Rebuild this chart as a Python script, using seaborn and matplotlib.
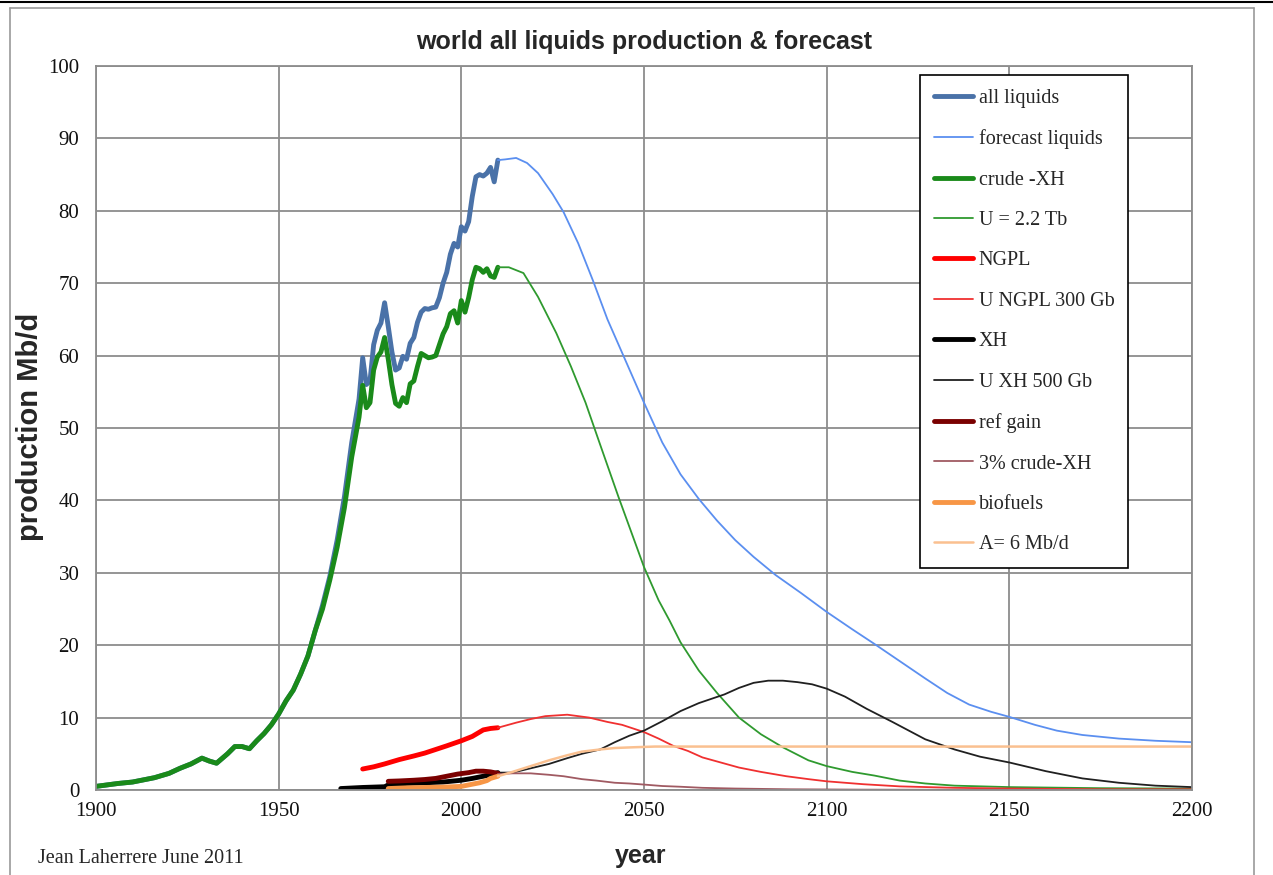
import matplotlib
matplotlib.use("Agg")
import matplotlib.pyplot as plt
import seaborn as sns
from matplotlib.lines import Line2D

# historical (thick lines)
hist_years = [1900, 1903, 1906, 1910, 1913, 1916, 1920, 1923, 1926, 1929, 1931, 1933, 1936, 1938,
              1940, 1942, 1944, 1946, 1948, 1950, 1952, 1954, 1956, 1958, 1960,
              1962, 1964, 1966, 1968, 1970, 1972,
              1973, 1974, 1975, 1976, 1977, 1978, 1979, 1980, 1981, 1982, 1983, 1984, 1985,
              1986, 1987, 1988, 1989, 1990, 1991, 1992, 1993, 1994, 1995, 1996, 1997, 1998,
              1999, 2000, 2001, 2002, 2003, 2004, 2005, 2006, 2007, 2008, 2009, 2010]
early = [0.5, 0.7, 0.9, 1.1, 1.4, 1.7, 2.3, 3.0, 3.6, 4.4, 4.0, 3.7, 5.0, 6.0,
         6.0, 5.7, 6.8, 7.8, 9.0, 10.5, 12.3, 13.8, 16.0, 18.5, 22.0]
all_liquids = early + [25.5, 29.5, 34.5, 40.5, 48.0, 54.0,
                       59.7, 56.0, 56.5, 61.5, 63.5, 64.5, 67.3, 64.0, 60.5, 58.0, 58.3, 59.9, 59.5,
                       61.7, 62.5, 64.6, 66.0, 66.5, 66.4, 66.6, 66.7, 68.0, 70.0, 71.5, 74.0, 75.5,
                       75.0, 77.8, 77.2, 78.5, 82.0, 84.7, 85.0, 84.8, 85.2, 86.0, 84.0, 87.0]
crude_xh = early + [25.0, 29.0, 33.5, 39.0, 46.0, 51.5,
                    55.9, 52.8, 53.5, 58.0, 59.8, 60.5, 62.5, 59.5, 56.0, 53.4, 53.0, 54.2, 53.5,
                    56.1, 56.5, 58.5, 60.3, 60.0, 59.7, 59.8, 60.0, 61.5, 63.0, 64.0, 65.8, 66.2,
                    64.5, 67.6, 66.0, 68.0, 70.5, 72.2, 72.0, 71.5, 72.0, 71.0, 70.8, 72.2]

ngpl_years = [1973, 1976, 1979, 1983, 1987, 1990, 1993, 1996, 2000, 2003, 2006, 2008, 2010]
ngpl = [2.9, 3.2, 3.6, 4.2, 4.7, 5.1, 5.6, 6.1, 6.8, 7.4, 8.3, 8.5, 8.6]
xh_years = [1967, 1973, 1979, 1980, 1985, 1990, 1995, 2000, 2003, 2007, 2010]
xh = [0.2, 0.35, 0.45, 0.7, 0.9, 1.0, 1.1, 1.35, 1.6, 2.0, 2.4]
ref_years = [1980, 1983, 1987, 1990, 1993, 1996, 1999, 2002, 2004, 2006, 2008, 2010]
ref_gain = [1.2, 1.25, 1.35, 1.45, 1.6, 1.9, 2.2, 2.4, 2.6, 2.6, 2.5, 2.3]
bio_years = [1980, 1985, 1990, 1995, 2000, 2003, 2005, 2007, 2008, 2010]
biofuels = [0.2, 0.3, 0.35, 0.4, 0.5, 0.8, 1.0, 1.3, 1.6, 1.9]

# forecasts (thin lines)
fc_liq_years = [2010, 2012, 2015, 2018, 2021, 2025, 2028, 2032, 2036, 2040, 2044, 2050, 2055, 2060,
                2065, 2070, 2075, 2080, 2086, 2093, 2100, 2107, 2113, 2120, 2127, 2133, 2139, 2145,
                2150, 2157, 2163, 2170, 2180, 2190, 2200]
fc_liq = [87.0, 87.1, 87.3, 86.6, 85.2, 82.3, 79.8, 75.5, 70.4, 65.0, 60.4, 53.5, 48.0, 43.6,
          40.2, 37.2, 34.5, 32.2, 29.7, 27.2, 24.6, 22.2, 20.2, 17.8, 15.4, 13.4, 11.8, 10.8,
          10.1, 9.0, 8.2, 7.6, 7.1, 6.8, 6.6]
fc_crude_years = [2010, 2013, 2017, 2021, 2026, 2030, 2034, 2038, 2043, 2050, 2054, 2057, 2060, 2065,
                  2070, 2076, 2082, 2088, 2095, 2100, 2107, 2113, 2120, 2127, 2135, 2150, 2175, 2200]
fc_crude = [72.2, 72.2, 71.4, 68.1, 63.1, 58.5, 53.5, 47.7, 40.5, 30.8, 26.2, 23.4, 20.4, 16.5,
            13.4, 10.0, 7.7, 5.9, 4.1, 3.3, 2.5, 2.0, 1.3, 0.9, 0.6, 0.4, 0.25, 0.2]
fc_ngpl_years = [2010, 2015, 2019, 2023, 2029, 2035, 2040, 2044, 2050, 2054, 2058, 2062, 2066, 2071,
                 2076, 2082, 2089, 2095, 2100, 2110, 2120, 2135, 2150, 2175, 2200]
fc_ngpl = [8.6, 9.3, 9.8, 10.2, 10.4, 10.0, 9.4, 9.0, 8.0, 7.1, 6.1, 5.4, 4.5, 3.8,
           3.1, 2.5, 1.9, 1.5, 1.2, 0.8, 0.5, 0.3, 0.2, 0.1, 0.1]
fc_xh_years = [2010, 2014, 2019, 2024, 2029, 2033, 2038, 2042, 2046, 2050, 2055, 2060, 2065, 2072,
               2076, 2080, 2084, 2088, 2092, 2096, 2100, 2105, 2111, 2118, 2127, 2135, 2142, 2150,
               2160, 2170, 2180, 2190, 2200]
fc_xh = [2.4, 2.4, 3.0, 3.6, 4.4, 5.0, 5.6, 6.6, 7.5, 8.2, 9.5, 10.9, 12.0, 13.2,
         14.1, 14.8, 15.1, 15.1, 14.9, 14.6, 14.0, 12.9, 11.2, 9.4, 7.0, 5.6, 4.6, 3.8,
         2.6, 1.6, 1.0, 0.6, 0.4]
fc_ref_years = [2010, 2014, 2019, 2024, 2028, 2033, 2037, 2042, 2046, 2050, 2055, 2060, 2066, 2075,
                2090, 2110, 2150, 2200]
fc_ref = [2.2, 2.3, 2.3, 2.1, 1.9, 1.5, 1.3, 1.0, 0.9, 0.75, 0.55, 0.45, 0.3, 0.2,
          0.1, 0.05, 0.02, 0.01]
fc_bio_years = [2010, 2014, 2019, 2024, 2029, 2033, 2038, 2042, 2047, 2053, 2100, 2150, 2200]
fc_bio = [1.9, 2.5, 3.3, 4.1, 4.8, 5.3, 5.6, 5.8, 5.9, 6.0, 6.0, 6.0, 6.0]

series = [
    ("all liquids", hist_years, all_liquids, "#4a72a8", 3.5),
    ("forecast liquids", fc_liq_years, fc_liq, "#5b8ff0", 1.3),
    ("crude -XH", hist_years, crude_xh, "#1a8a1a", 3.5),
    ("U = 2.2 Tb", fc_crude_years, fc_crude, "#2f9a2f", 1.3),
    ("NGPL", ngpl_years, ngpl, "#ff0000", 3.5),
    ("U NGPL 300 Gb", fc_ngpl_years, fc_ngpl, "#f03030", 1.3),
    ("XH", xh_years, xh, "#000000", 3.5),
    ("U XH 500 Gb", fc_xh_years, fc_xh, "#202020", 1.3),
    ("ref gain", ref_years, ref_gain, "#7a0000", 3.5),
    ("3% crude-XH", fc_ref_years, fc_ref, "#a05a62", 1.3),
    ("biofuels", bio_years, biofuels, "#f79646", 3.5),
    ("A= 6 Mb/d", fc_bio_years, fc_bio, "#fac090", 1.8),
]

sns.set_style("white")
plt.rcParams['font.family'] = ['Liberation Serif', 'DejaVu Serif']

fig = plt.figure(figsize=(12.73, 8.75), dpi=100)
ax = fig.add_axes([96 / 1273, 85 / 875, 1096 / 1273, 724 / 875])

for name, xs, ys, col, lw in series:
    sns.lineplot(x=xs, y=ys, ax=ax, color=col, lw=lw, label=name)

ax.set_xlim(1900, 2200)
ax.set_ylim(0, 100)
ax.set_xticks(range(1900, 2201, 50))
ax.set_yticks(range(0, 101, 10))
ax.grid(True, color="#8c8c8c", lw=1.3)
ax.set_axisbelow(True)
for s in ax.spines.values():
    s.set_color("#8c8c8c")
    s.set_linewidth(1.3)
ax.tick_params(axis="both", length=0, labelsize=15, colors="#111111")
ax.tick_params(axis="y", pad=12)
ax.tick_params(axis="x", pad=9)
ax.set_xlabel("")
ax.set_ylabel("")

leg = ax.legend(loc="upper left", bbox_to_anchor=(0.752, 0.988), fontsize=14.5,
                frameon=True, fancybox=False, framealpha=1, edgecolor="black",
                handlelength=1.9, handletextpad=0.3, labelspacing=1.06,
                borderpad=0.7, borderaxespad=0)
leg.get_frame().set_linewidth(1.2)

sans = ['Liberation Sans Narrow', 'Liberation Sans', 'DejaVu Sans']
fig.text(0.506, 0.952, "world all liquids production & forecast", ha="center", va="center",
         fontsize=18, fontweight="bold", family=sans)
fig.text(0.0236, 0.512, "production Mb/d", ha="center", va="center", rotation=90,
         fontsize=21, fontweight="bold", family=sans)
fig.text(0.503, 0.022, "year", ha="center", va="center", fontsize=18, fontweight="bold",
         family=sans)
fig.text(0.030, 0.019, "Jean Laherrere June 2011", ha="left", va="center", fontsize=14.5)

# page frame
fig.add_artist(Line2D([10 / 1273, 10 / 1273], [0, 1 - 8 / 875], color="#999999", lw=1.2))
fig.add_artist(Line2D([10 / 1273, 1254 / 1273], [1 - 8 / 875, 1 - 8 / 875], color="#999999", lw=1.2))
fig.add_artist(Line2D([1254 / 1273, 1254 / 1273], [0, 1 - 8 / 875], color="#999999", lw=1.2))
fig.add_artist(Line2D([0, 1], [1 - 2 / 875, 1 - 2 / 875], color="#000000", lw=1.5))

fig.savefig("out.png", dpi=100)
